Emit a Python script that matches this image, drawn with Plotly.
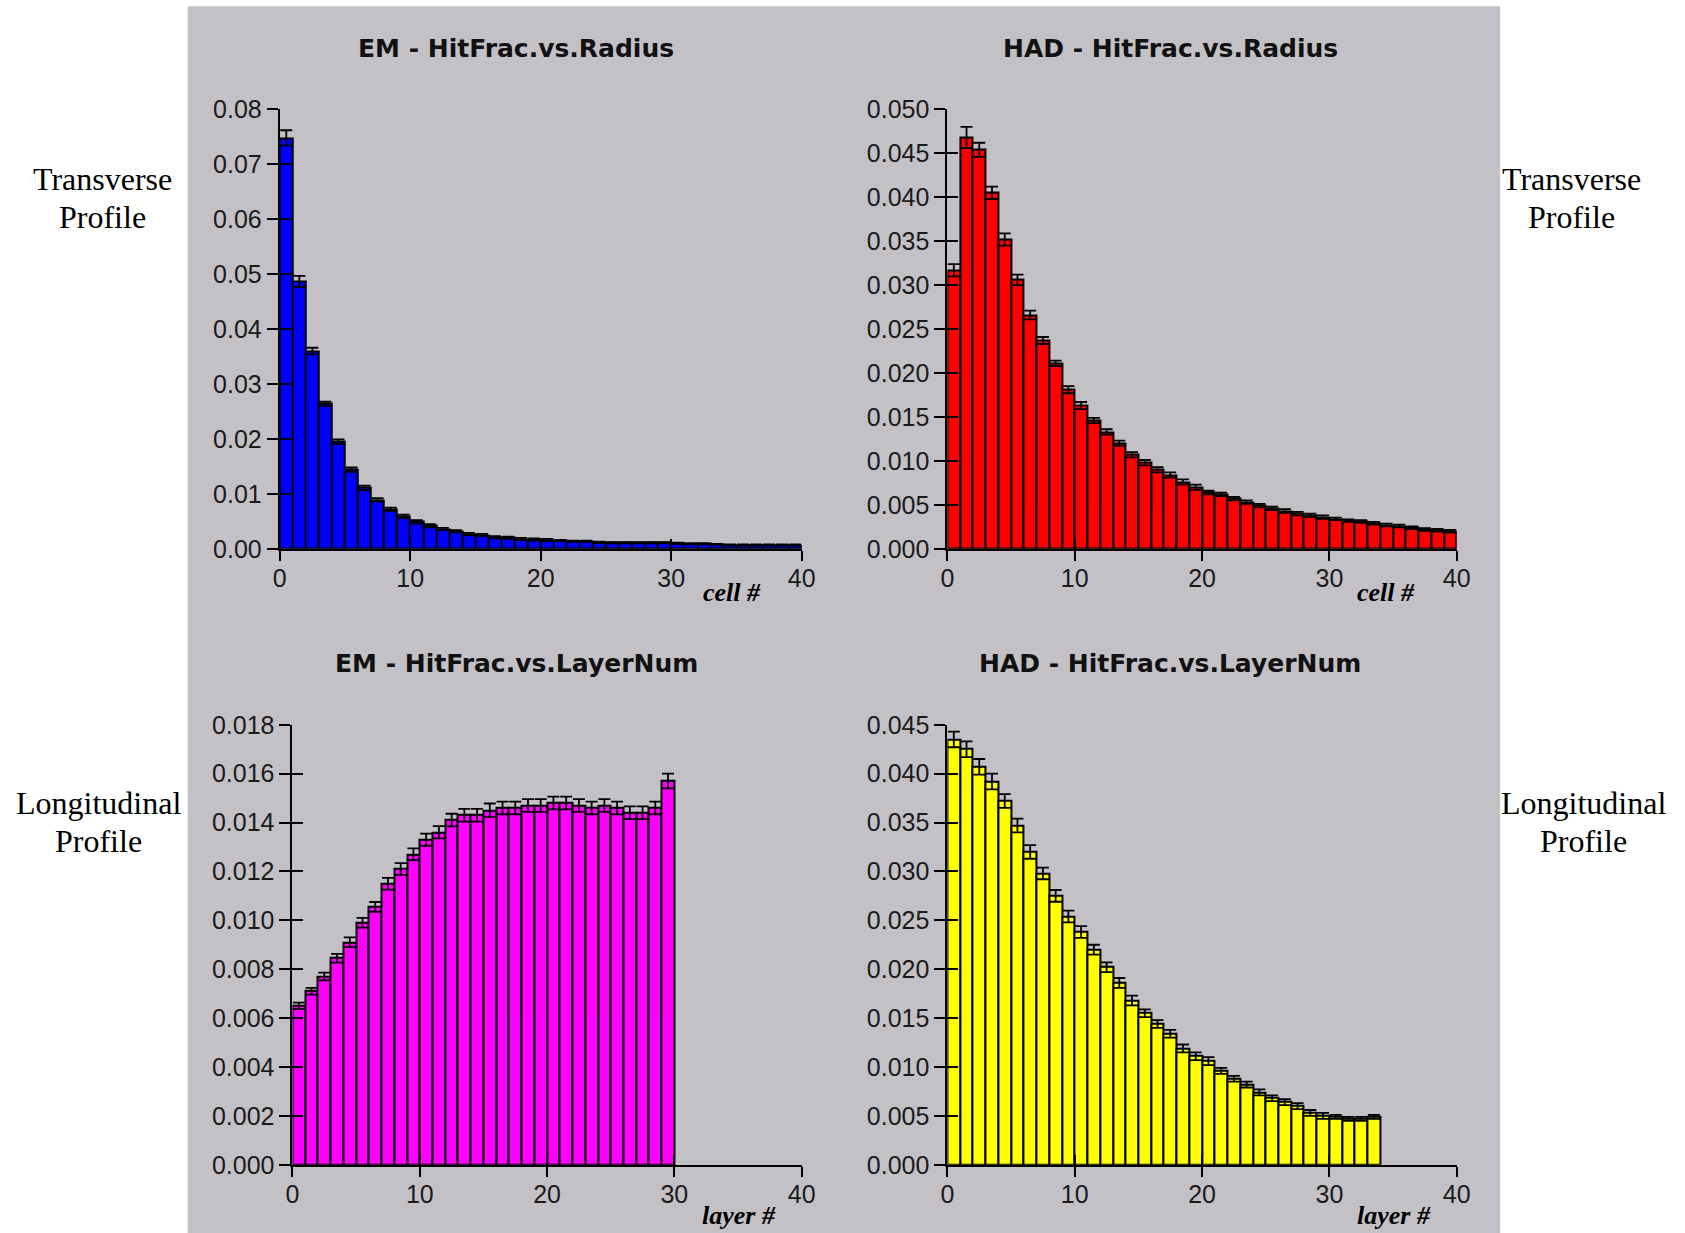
import plotly.graph_objects as go

# ---- data: hit fraction per bin (bin i spans [i, i+1]) ----
radius_cells = list(range(40))
em_radius = [0.0748, 0.0487, 0.0360, 0.0264, 0.0195, 0.0144, 0.0111, 0.0089, 0.0072, 0.0059,
             0.0049, 0.0042, 0.0036, 0.0032, 0.0027, 0.0025, 0.0021, 0.0020, 0.0018, 0.0017,
             0.0016, 0.0015, 0.0014, 0.0014, 0.0012, 0.0011, 0.0011, 0.0011, 0.0011, 0.0011,
             0.0010, 0.0009, 0.0009, 0.0008, 0.0007, 0.0007, 0.0007, 0.0007, 0.0007, 0.0007]
em_radius_err = [0.0014, 0.0010, 0.0006, 0.0004, 0.0004, 0.0004, 0.0004, 0.0003, 0.0003, 0.0003,
                 0.0003, 0.0003, 0.0002, 0.0002, 0.0002, 0.0002, 0.0002, 0.0002, 0.0002, 0.0002,
                 0.0002, 0.0001, 0.0001, 0.0001, 0.0001, 0.0001, 0.0001, 0.0001, 0.0001, 0.0001,
                 0.0001, 0.0001, 0.0001, 0.0001, 0.0001, 0.0001, 0.0001, 0.0001, 0.0001, 0.0001]

had_radius = [0.0317, 0.0468, 0.0454, 0.0405, 0.0352, 0.0306, 0.0266, 0.0237, 0.0211, 0.0181,
              0.0163, 0.0146, 0.0133, 0.0120, 0.0107, 0.0098, 0.0090, 0.0084, 0.0076, 0.0070,
              0.0064, 0.0062, 0.0057, 0.0053, 0.0049, 0.0046, 0.0043, 0.0040, 0.0038, 0.0036,
              0.0034, 0.0032, 0.0031, 0.0029, 0.0027, 0.0026, 0.0024, 0.0022, 0.0021, 0.0020]
had_radius_err = [0.0007, 0.0012, 0.0008, 0.0007, 0.0007, 0.0006, 0.0005, 0.0004, 0.0003, 0.0004,
                  0.0004, 0.0003, 0.0003, 0.0003, 0.0003, 0.0003, 0.0003, 0.0003, 0.0003, 0.0003,
                  0.0002, 0.0002, 0.0002, 0.0002, 0.0002, 0.0002, 0.0002, 0.0002, 0.0002, 0.0002,
                  0.00015, 0.00015, 0.00015, 0.00015, 0.00015, 0.00015, 0.00015, 0.00015, 0.00015, 0.00015]

em_layers = list(range(30))
em_layer = [0.0065, 0.0071, 0.0077, 0.00845, 0.0091, 0.0099, 0.01055, 0.0115, 0.0121, 0.0127,
            0.0133, 0.0136, 0.0141, 0.0143, 0.0143, 0.0145, 0.0146, 0.0146, 0.0147, 0.0147,
            0.0148, 0.0148, 0.0147, 0.0146, 0.0147, 0.0146, 0.0144, 0.0144, 0.0146, 0.0157]
em_layer_err = [0.00013, 0.00014, 0.00016, 0.00018, 0.0002, 0.0002, 0.0002, 0.00024, 0.00024, 0.00024,
                0.00025, 0.00025, 0.00026, 0.00026, 0.00026, 0.00028, 0.00026, 0.00026, 0.00026, 0.00026,
                0.00026, 0.00026, 0.00026, 0.00026, 0.00026, 0.00026, 0.00026, 0.00026, 0.00026, 0.0003]

had_layers = list(range(34))
had_layer = [0.0435, 0.0425, 0.0407, 0.0392, 0.0372, 0.0347, 0.0320, 0.0298, 0.0275, 0.0254,
             0.0238, 0.0220, 0.0202, 0.0186, 0.0168, 0.0155, 0.0144, 0.0134, 0.0119, 0.0111,
             0.0106, 0.0096, 0.0088, 0.0082, 0.0074, 0.0068, 0.0064, 0.0060, 0.0053, 0.0050,
             0.0049, 0.0047, 0.0047, 0.0049]
had_layer_err = [0.0008, 0.0008, 0.0008, 0.0008, 0.0007, 0.0007, 0.0007, 0.0006, 0.0006, 0.0006,
                 0.0006, 0.0005, 0.0005, 0.0005, 0.0005, 0.0004, 0.0004, 0.0004, 0.0004, 0.0004,
                 0.0004, 0.0003, 0.0003, 0.0003, 0.0003, 0.0003, 0.0003, 0.0003, 0.0003, 0.0003,
                 0.0002, 0.0002, 0.0002, 0.0002]

x_ticks = [0, 10, 20, 30, 40]

W, H = 1685, 1233
PANEL_BG = "#c3c1c5"
TICK_FONT = dict(family="Liberation Sans, Arial, sans-serif", size=25, color="#1a1a1a")
TITLE_FONT = dict(family="DejaVu Sans, sans-serif", size=25, color="#111111")
SIDE_FONT = dict(family="Liberation Serif, Times New Roman, serif", size=32, color="black")
AXLABEL_FONT = dict(family="Liberation Serif, Times New Roman, serif", size=26, color="black")


def px_x(v):
    return v / W


def px_y(v):
    return 1 - v / H


# plot-area placement of the four histograms (pixel edges)
panels = [
    dict(xd=[px_x(276.2), px_x(804.7)], yd=[px_y(547.2), px_y(97.6)], top=0.08, dtick=0.01, fmt=".2f",
         color="#0000ff", cells=radius_cells, vals=em_radius, err=em_radius_err,
         title="<b>EM - HitFrac.vs.Radius</b>", tpos=(515, 35), lab="cell #", lpos=(734, 592)),
    dict(xd=[px_x(952.3), px_x(1468.0)], yd=[px_y(547.2), px_y(97.6)], top=0.05, dtick=0.005, fmt=".3f",
         color="#ff0000", cells=radius_cells, vals=had_radius, err=had_radius_err,
         title="<b>HAD - HitFrac.vs.Radius</b>", tpos=(1178, 35), lab="cell #", lpos=(1396, 592)),
    dict(xd=[px_x(289.1), px_x(804.7)], yd=[px_y(1177.5), px_y(727.3)], top=0.018, dtick=0.002, fmt=".3f",
         color="#ff00ff", cells=em_layers, vals=em_layer, err=em_layer_err,
         title="<b>EM - HitFrac.vs.LayerNum</b>", tpos=(516, 665), lab="layer #", lpos=(741, 1229)),
    dict(xd=[px_x(952.3), px_x(1468.0)], yd=[px_y(1177.5), px_y(727.3)], top=0.045, dtick=0.005, fmt=".3f",
         color="#ffff00", cells=had_layers, vals=had_layer, err=had_layer_err,
         title="<b>HAD - HitFrac.vs.LayerNum</b>", tpos=(1178, 665), lab="layer #", lpos=(1404, 1229)),
]

fig = go.Figure()
layout = {}
annotations = []

for i, p in enumerate(panels, start=1):
    xs = "" if i == 1 else str(i)
    ov = str(i + 4)
    centers = [c + 0.5 for c in p["cells"]]
    fig.add_trace(go.Bar(
        x=centers, y=p["vals"], width=1,
        marker=dict(color=p["color"], line=dict(color="black", width=2)),
        error_y=dict(type="data", array=p["err"], visible=True, color="black", thickness=1.8, width=6),
        xaxis="x" + xs, yaxis="y" + xs, showlegend=False, hoverinfo="skip",
    ))
    # companion axes carrying the inward half of each tick
    fig.add_trace(go.Scatter(x=[None], y=[None], mode="markers", xaxis="x" + ov, yaxis="y" + ov,
                             showlegend=False, hoverinfo="skip"))

    common_x = dict(domain=p["xd"], range=[0, 40], tickvals=x_ticks, showgrid=False, zeroline=False,
                    fixedrange=True, tickwidth=2, ticklen=10, tickcolor="black")
    common_y = dict(domain=p["yd"], range=[0, p["top"]], dtick=p["dtick"], tick0=0, showgrid=False,
                    zeroline=False, fixedrange=True, tickwidth=2, ticklen=11, tickcolor="black")

    layout["xaxis" + xs] = dict(common_x, anchor="y" + xs, showline=True, linecolor="black", linewidth=2,
                                ticks="outside", tickfont=TICK_FONT, ticklabelstandoff=-4)
    layout["yaxis" + xs] = dict(common_y, anchor="x" + xs, showline=True, linecolor="black", linewidth=2,
                                ticks="outside", tickfont=TICK_FONT, tickformat=p["fmt"])
    layout["xaxis" + ov] = dict(common_x, anchor="y" + ov, showline=False, ticks="inside",
                                showticklabels=False)
    layout["yaxis" + ov] = dict(common_y, anchor="x" + ov, showline=False, ticks="inside",
                                showticklabels=False)

    annotations.append(dict(text=p["title"], x=px_x(p["tpos"][0]), y=px_y(p["tpos"][1]),
                            xref="paper", yref="paper", xanchor="center", yanchor="middle",
                            showarrow=False, font=TITLE_FONT))
    annotations.append(dict(text="<b><i>" + p["lab"] + "</i></b>", x=px_x(p["lpos"][0]), y=px_y(p["lpos"][1]),
                            xref="paper", yref="paper", xanchor="center", yanchor="middle",
                            showarrow=False, font=AXLABEL_FONT))

# row captions outside the grey panel
side_labels = [
    ("Transverse", 97, 169), ("Profile", 97, 208),
    ("Transverse", 1584, 169), ("Profile", 1584, 208),
    ("Longitudinal", 93, 807), ("Profile", 93, 846),
    ("Longitudinal", 1596, 807), ("Profile", 1596, 846),
]
for txt, x, y in side_labels:
    annotations.append(dict(text=txt, x=px_x(x), y=px_y(y), xref="paper", yref="paper",
                            xanchor="center", yanchor="middle", showarrow=False, font=SIDE_FONT))

fig.update_layout(
    width=W, height=H,
    margin=dict(l=0, r=0, t=0, b=0),
    paper_bgcolor="white",
    plot_bgcolor="rgba(0,0,0,0)",
    bargap=0,
    showlegend=False,
    annotations=annotations,
    shapes=[dict(type="rect", xref="paper", yref="paper", x0=px_x(183), x1=px_x(1512),
                 y0=px_y(1250), y1=px_y(-8), fillcolor=PANEL_BG, line=dict(width=0), layer="below")],
    **layout,
)

fig.write_html("out.html")
